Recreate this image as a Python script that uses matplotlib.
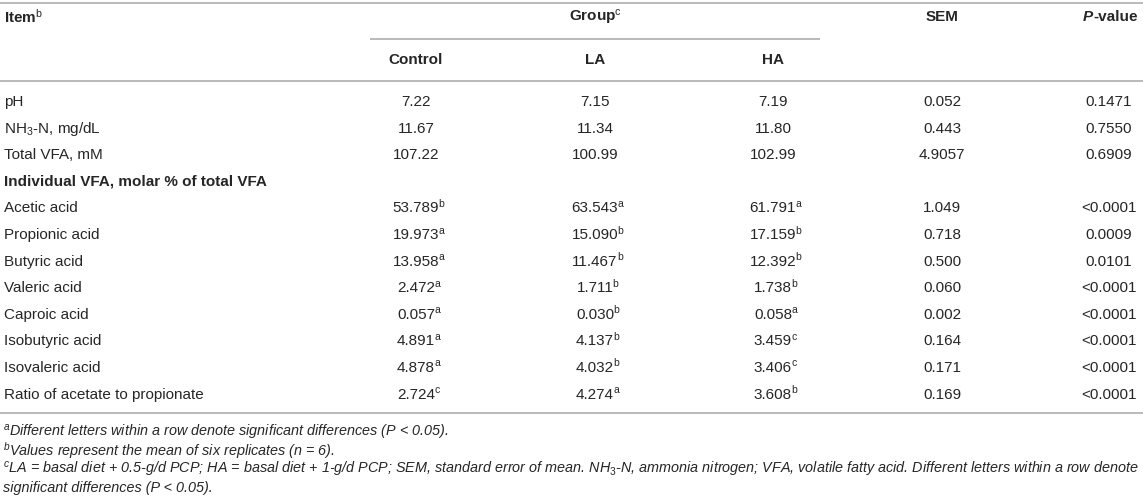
import matplotlib
matplotlib.use("Agg")
import matplotlib.pyplot as plt

plt.rcParams['font.family'] = ['Liberation Sans', 'DejaVu Sans']
plt.rcParams['mathtext.fontset'] = 'custom'
plt.rcParams['mathtext.rm'] = 'Liberation Sans'
plt.rcParams['mathtext.it'] = 'Liberation Sans:italic'
plt.rcParams['mathtext.bf'] = 'Liberation Sans:bold'

# ---- data ----
items = ["pH", "NH$_{3}$-N, mg/dL", "Total VFA, mM",
         "Individual VFA, molar % of total VFA",
         "Acetic acid", "Propionic acid", "Butyric acid", "Valeric acid",
         "Caproic acid", "Isobutyric acid", "Isovaleric acid",
         "Ratio of acetate to propionate"]
control = ["7.22", "11.67", "107.22", "", "53.789", "19.973", "13.958", "2.472",
           "0.057", "4.891", "4.878", "2.724"]
control_sup = ["", "", "", "", "b", "a", "a", "a", "a", "a", "a", "c"]
la = ["7.15", "11.34", "100.99", "", "63.543", "15.090", "11.467", "1.711",
      "0.030", "4.137", "4.032", "4.274"]
la_sup = ["", "", "", "", "a", "b", "b", "b", "b", "b", "b", "a"]
ha = ["7.19", "11.80", "102.99", "", "61.791", "17.159", "12.392", "1.738",
      "0.058", "3.459", "3.406", "3.608"]
ha_sup = ["", "", "", "", "a", "b", "b", "b", "a", "c", "c", "b"]
sem = ["0.052", "0.443", "4.9057", "", "1.049", "0.718", "0.500", "0.060",
       "0.002", "0.164", "0.171", "0.169"]
pval = ["0.1471", "0.7550", "0.6909", "", "<0.0001", "0.0009", "0.0101",
        "<0.0001", "<0.0001", "<0.0001", "<0.0001", "<0.0001"]
group_labels = ["Control", "LA", "HA"]
footnotes = [
    "$^{a}$Different letters within a row denote significant differences (P < 0.05).",
    "$^{b}$Values represent the mean of six replicates (n = 6).",
    "$^{c}$LA = basal diet + 0.5-g/d PCP; HA = basal diet + 1-g/d PCP; SEM, standard error of mean. "
    "NH$_{3}$-N, ammonia nitrogen; VFA, volatile fatty acid. Different letters within a row denote",
    "significant differences (P < 0.05).",
]

# ---- layout ----
W, H = 1143, 503
fig = plt.figure(figsize=(W / 100, H / 100), dpi=100)
ax = fig.add_axes([0, 0, 1, 1])
ax.set_xlim(0, W)
ax.set_ylim(H, 0)
ax.axis('off')

txt = '#262626'
line_c = '#b4b4b4'
fs = 11
fs_foot = 10.4
x_item = 4
col_x = [416, 595, 773]
x_sem = 942
x_p = 1109
y_head1 = 17
y_head2 = 60
y0 = 102
dy = 26.6

for y, x1, x2 in [(3, 0, W), (81, 0, W), (413, 0, W), (39, 370, 820)]:
    ax.plot([x1, x2], [y, y], color=line_c, lw=1.3, solid_capstyle='butt')

ax.text(x_item, y_head1, r"Item$^{\mathrm{b}}$", ha='left', va='center',
        fontsize=fs, fontweight='bold', color=txt)
ax.text(595, y_head1, r"Group$^{\mathrm{c}}$", ha='center', va='center',
        fontsize=fs, fontweight='bold', color=txt)
ax.text(x_sem, y_head1, "SEM", ha='center', va='center',
        fontsize=fs, fontweight='bold', color=txt)
ax.text(1093, y_head1, "P", ha='right', va='center', fontsize=fs,
        fontweight='bold', fontstyle='italic', color=txt)
ax.text(1093, y_head1, "-value", ha='left', va='center', fontsize=fs,
        fontweight='bold', color=txt)
for x, lab in zip(col_x, group_labels):
    ax.text(x, y_head2, lab, ha='center', va='center', fontsize=fs,
            fontweight='bold', color=txt)

fig.canvas.draw()
renderer = fig.canvas.get_renderer()
inv = ax.transData.inverted()


def val_with_sup(x, y, base, sup):
    t = ax.text(x, y, base, ha='center', va='center', fontsize=fs, color=txt)
    if sup:
        bb = t.get_window_extent(renderer)
        xr = inv.transform((bb.x1, 0))[0]
        ax.text(xr - 0.8, y - 4.5, sup, ha='left', va='center',
                fontsize=fs * 0.68, color=txt)


for i, item in enumerate(items):
    y = y0 + i * dy
    bold = (i == 3)
    ax.text(x_item, y, item, ha='left', va='center', fontsize=fs,
            fontweight='bold' if bold else 'normal', color=txt)
    if bold:
        continue
    for x, vals, sups in zip(col_x, [control, la, ha],
                             [control_sup, la_sup, ha_sup]):
        val_with_sup(x, y, vals[i], sups[i])
    ax.text(x_sem, y, sem[i], ha='center', va='center', fontsize=fs, color=txt)
    ax.text(x_p, y, pval[i], ha='center', va='center', fontsize=fs, color=txt)

for j, fn in enumerate(footnotes):
    ax.text(3, 432 + j * 18.8, fn, ha='left', va='center', fontsize=fs_foot,
            fontstyle='italic', color=txt)

fig.savefig("out.png", dpi=100)
